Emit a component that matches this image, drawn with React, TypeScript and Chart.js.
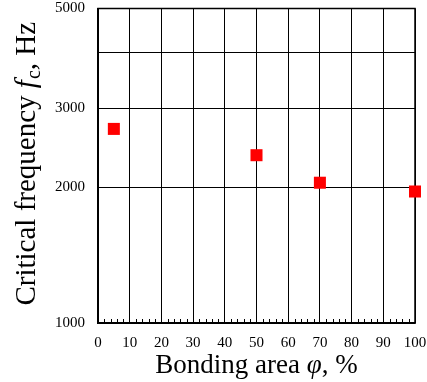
import React, { useEffect, useRef } from 'react';
import { Chart, registerables } from 'chart.js';

Chart.register(...registerables);

const bondingArea = [5, 50, 70, 100];
const criticalFrequency = [2700, 2360, 2050, 1960];

const xMajorTicks = [0, 10, 20, 30, 40, 50, 60, 70, 80, 90, 100];
const xTickLabels = ['0', '10', '20', '30', '40', '50', '60', '70', '80', '90', '100'];
const xMinorTicks = [2, 4, 6, 8, 12, 14, 16, 18, 22, 24, 26, 28, 32, 34, 36, 38, 42, 44, 46, 48, 52, 54, 56, 58, 62, 64, 66, 68, 72, 74, 76, 78, 82, 84, 86, 88, 92, 94, 96, 98];
const yTicks = [1000, 2000, 3000, 4000, 5000];
const yTickLabels = ['1000', '2000', '3000', '', '5000'];

const SERIF = '"Liberation Serif", "Times New Roman", serif';

type Part = { text: string; font: string; dy?: number; gap?: number };

function drawRich(ctx: CanvasRenderingContext2D, parts: Part[], x: number, y: number, rot: number) {
  ctx.save();
  ctx.translate(x, y);
  ctx.rotate(rot);
  ctx.fillStyle = '#000';
  ctx.textBaseline = 'alphabetic';
  ctx.textAlign = 'left';
  let total = 0;
  const widths = parts.map((p) => {
    ctx.font = p.font;
    const w = ctx.measureText(p.text).width + (p.gap || 0);
    total += w;
    return w;
  });
  let cx = -total / 2;
  parts.forEach((p, i) => {
    ctx.font = p.font;
    ctx.fillText(p.text, cx, p.dy || 0);
    cx += widths[i];
  });
  ctx.restore();
}

const decorPlugin = {
  id: 'decor',
  beforeDatasetsDraw(chart: any) {
    const { ctx, chartArea } = chart;
    const { left, right, top, bottom } = chartArea;
    const x = chart.scales.x;
    ctx.save();
    ctx.strokeStyle = '#000';
    ctx.lineWidth = 1;
    xMinorTicks.forEach((v) => {
      const px = Math.round(x.getPixelForValue(v)) + 0.5;
      ctx.beginPath();
      ctx.moveTo(px, bottom);
      ctx.lineTo(px, bottom - 4);
      ctx.stroke();
    });
    ctx.lineWidth = 1.5;
    ctx.strokeRect(left, top, right - left, bottom - top);
    ctx.restore();
  },
  afterDraw(chart: any) {
    const { ctx, chartArea } = chart;
    const x = chart.scales.x;
    const y = chart.scales.y;
    ctx.save();
    ctx.fillStyle = '#000';
    ctx.font = `15px ${SERIF}`;
    ctx.textBaseline = 'middle';
    ctx.textAlign = 'right';
    yTicks.forEach((v, i) => {
      ctx.fillText(yTickLabels[i], chartArea.left - 13, y.getPixelForValue(v));
    });
    ctx.textAlign = 'center';
    xMajorTicks.forEach((v, i) => {
      ctx.fillText(xTickLabels[i], x.getPixelForValue(v), chartArea.bottom + 20);
    });
    ctx.restore();

    const midY = (chartArea.top + chartArea.bottom) / 2;
    const midX = (chartArea.left + chartArea.right) / 2;
    drawRich(
      ctx,
      [
        { text: 'Critical frequency ', font: `29px ${SERIF}` },
        { text: 'f', font: `italic 29px ${SERIF}`, gap: 1 },
        { text: 'c', font: `20px ${SERIF}`, dy: 5 },
        { text: ', Hz', font: `29px ${SERIF}` },
      ],
      35,
      midY - 2,
      -Math.PI / 2
    );
    drawRich(
      ctx,
      [
        { text: 'Bonding area ', font: `27px ${SERIF}` },
        { text: '\u03c6', font: `italic 27px ${SERIF}` },
        { text: ', %', font: `27px ${SERIF}` },
      ],
      midX,
      373,
      0
    );
  },
};

export default function App() {
  const canvasRef = useRef<HTMLCanvasElement | null>(null);

  useEffect(() => {
    document.body.style.margin = '0';
    const canvas = canvasRef.current;
    if (!canvas) return;
    const chart = new Chart(canvas, {
      type: 'scatter',
      data: {
        datasets: [
          {
            data: bondingArea.map((v, i) => ({ x: v, y: criticalFrequency[i] })),
            pointStyle: 'rect',
            pointRadius: 8.5,
            pointHoverRadius: 8.5,
            backgroundColor: '#ff0000',
            borderColor: '#ff0000',
            borderWidth: 0,
            clip: false as any,
          },
        ],
      },
      options: {
        responsive: false,
        animation: false,
        events: [],
        layout: { padding: { left: 0, right: 12, top: 8, bottom: 0 } },
        plugins: { legend: { display: false }, tooltip: { enabled: false } },
        scales: {
          x: {
            type: 'linear',
            min: 0,
            max: 100,
            afterBuildTicks: (s: any) => {
              s.ticks = xMajorTicks.map((v) => ({ value: v }));
            },
            afterFit: (s: any) => {
              s.height = 59;
            },
            ticks: { display: false, autoSkip: false, maxRotation: 0 },
            grid: { color: '#000', lineWidth: 1, drawTicks: false },
            border: { color: '#000', width: 1.5 },
          },
          y: {
            type: 'logarithmic',
            min: 1000,
            max: 5000,
            afterBuildTicks: (s: any) => {
              s.ticks = yTicks.map((v) => ({ value: v }));
            },
            afterFit: (s: any) => {
              s.width = 98;
            },
            ticks: { display: false, autoSkip: false },
            grid: { color: '#000', lineWidth: 1, drawTicks: false },
            border: { color: '#000', width: 1.5 },
          },
        },
      },
      plugins: [decorPlugin],
    });
    return () => chart.destroy();
  }, []);

  return (
    <div style={{ width: 427, height: 382 }}>
      <canvas ref={canvasRef} width={427} height={382} style={{ display: 'block' }} />
    </div>
  );
}
